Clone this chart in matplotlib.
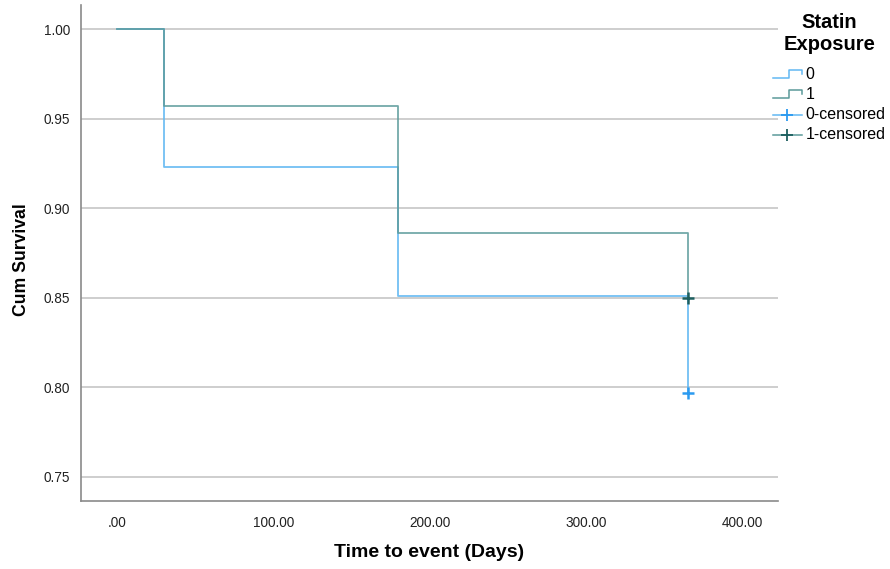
import matplotlib
matplotlib.use("Agg")
import matplotlib.pyplot as plt
from matplotlib.lines import Line2D
from matplotlib.legend_handler import HandlerBase

plt.rcParams['font.family'] = ['Liberation Sans', 'DejaVu Sans']

# Kaplan-Meier estimates per exposure group
days = [0, 30, 180, 365]
surv_0 = [1.000, 0.923, 0.851, 0.797]
surv_1 = [1.000, 0.957, 0.886, 0.850]
censor_t0 = [365]; censor_s0 = [0.797]
censor_t1 = [365]; censor_s1 = [0.850]
groups = ['0', '1']
x_ticks = [0, 100, 200, 300, 400]
x_tick_labels = ['.00', '100.00', '200.00', '300.00', '400.00']
y_ticks = [0.75, 0.80, 0.85, 0.90, 0.95, 1.00]

c0, c1 = '#62B8F2', '#5B9A9A'
m0, m1 = '#2B9AF0', '#1C5E5E'


class StepHandler(HandlerBase):
    """legend key drawn as a little survival step"""
    def create_artists(self, legend, orig, xd, yd, w, h, fontsize, trans):
        xs = [xd, xd + 0.55 * w, xd + 0.55 * w, xd + w, xd + w]
        ys = [yd + 0.1 * h, yd + 0.1 * h, yd + 0.85 * h, yd + 0.85 * h, yd + 0.45 * h]
        ln = Line2D(xs, ys, color=orig.get_color(), lw=1.1, transform=trans)
        return [ln]


class CensorHandler(HandlerBase):
    def create_artists(self, legend, orig, xd, yd, w, h, fontsize, trans):
        ln = Line2D([xd, xd + w], [yd + 0.4 * h] * 2, color=orig.get_color(), lw=1.1, transform=trans)
        mk = Line2D([xd + 0.5 * w], [yd + 0.4 * h], marker='+', ms=9, mew=1.3,
                    color=orig.get_markerfacecolor(), linestyle='none', transform=trans)
        return [ln, mk]


fig = plt.figure(figsize=(8.9, 5.69), dpi=100)
ax = fig.add_axes([0.091, 0.1195, 0.783, 0.8715])

ax.step(days, surv_0, where='post', color=c0, lw=1.3, alpha=0.9, zorder=3)
ax.step(days, surv_1, where='post', color=c1, lw=1.3, alpha=0.85, zorder=4)
ax.plot(censor_t0, censor_s0, '+', color=m0, ms=9, mew=1.8, zorder=5)
ax.plot(censor_t1, censor_s1, '+', color=m1, ms=9, mew=1.8, zorder=6)

ax.set_xlim(-23, 422.6)
ax.set_ylim(0.7366, 1.0134)
ax.set_xticks(x_ticks)
ax.set_xticklabels(x_tick_labels)
ax.set_yticks(y_ticks)
ax.set_yticklabels([f'{v:.2f}' for v in y_ticks])
ax.tick_params(length=0, labelsize=9.8, colors='#222222', pad=8)
ax.tick_params(axis='x', pad=11)
ax.grid(axis='y', color='#C6C6C6', lw=1.2)
ax.set_axisbelow(True)
for s in ['top', 'right']:
    ax.spines[s].set_visible(False)
for s in ['left', 'bottom']:
    ax.spines[s].set_color('#8A8A8A')
    ax.spines[s].set_linewidth(1.2)

ax.set_xlabel('Time to event (Days)', fontsize=14, fontweight='bold', va='center')
ax.xaxis.set_label_coords(0.499, -0.103)
ax.set_ylabel('Cum Survival', fontsize=12.7, fontweight='bold', va='center')
ax.yaxis.set_label_coords(-0.086, 0.487)

h0 = Line2D([], [], color=c0)
h1 = Line2D([], [], color=c1)
hc0 = Line2D([], [], color=c0, markerfacecolor=m0)
hc1 = Line2D([], [], color=c1, markerfacecolor=m1)
leg = fig.legend([h0, h1, hc0, hc1],
                 groups + [g + '-censored' for g in groups],
                 handler_map={h0: StepHandler(), h1: StepHandler(),
                              hc0: CensorHandler(), hc1: CensorHandler()},
                 title='Statin\nExposure', loc='upper left',
                 bbox_to_anchor=(773 / 890, 1 - 13 / 569), frameon=False, fontsize=11.5,
                 handlelength=1.8, handletextpad=0.25, labelspacing=0.31,
                 borderpad=0, borderaxespad=0)
tt = leg.get_title()
tt.set_fontweight('bold')
tt.set_fontsize(14.5)
tt.set_multialignment('center')
tt.set_linespacing(1.17)
leg._legend_box.align = 'center'
leg._legend_box.sep = 10

fig.savefig('out.png', dpi=100)
